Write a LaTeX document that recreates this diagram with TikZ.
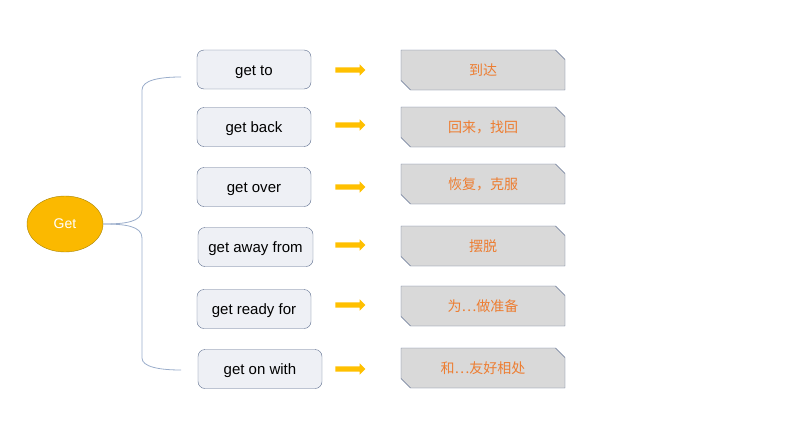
\documentclass[tikz,border=0pt]{standalone}
\usepackage{fontspec}
\setmainfont{Liberation Sans}
\newfontfamily\cjk{Noto Sans CJK SC}
\usetikzlibrary{shapes.geometric,shapes.misc,shapes.arrows}

\definecolor{getgold}{HTML}{FBB900}
\definecolor{goldline}{HTML}{A8850A}
\definecolor{phrasefill}{HTML}{EEF0F5}
\definecolor{boxline}{HTML}{5A6B8C}
\definecolor{meanfill}{HTML}{D9D9D9}
\definecolor{meantext}{HTML}{ED7D31}
\definecolor{bracecol}{HTML}{9AADCB}
\definecolor{arrowcol}{HTML}{FFC000}

\tikzset{
  phrase/.style={shape=rectangle,rounded corners=7pt,draw=boxline,fill=phrasefill,
    minimum width=114pt,minimum height=39pt,inner sep=0pt,
    text height=12pt,text depth=1pt,
    font=\fontsize{15}{17}\selectfont},
  meaning/.style={shape=chamfered rectangle,chamfered rectangle corners={north east,south west},
    chamfered rectangle xsep=6pt,draw=boxline,fill=meanfill,text=meantext,
    minimum width=164pt,minimum height=40pt,inner sep=0pt,
    font=\cjk\fontsize{14}{16}\selectfont},
  yarrow/.style={shape=single arrow,fill=arrowcol,inner sep=2.5pt,
    single arrow head extend=3pt,single arrow head indent=0pt,minimum height=30pt}
}

\begin{document}
\begin{tikzpicture}[x=1pt,y=-1pt]
\useasboundingbox (0,0) rectangle (794,447);
%[line width=0.8pt]
\path (65,224) node (get) [shape=ellipse,minimum width=76pt,minimum height=56pt,draw=goldline,fill=getgold,text=white,font=\fontsize{14}{16}\selectfont] {Get};

\path (254,69.5) node (getto) [phrase] {get to};
\path (254,127) node (getback) [phrase] {get back};
\path (254,187) node (getover) [phrase] {get over};
\path (255.5,247) node (getaway) [phrase,minimum width=115pt] {get away from};
\path (254,309) node (getready) [phrase] {get ready for};
\path (260,369) node (geton) [phrase,minimum width=124pt] {get on with};

\path (349,70) node (arrto) [yarrow] {};
\path (349,125) node (arrback) [yarrow] {};
\path (349,187) node (arrover) [yarrow] {};
\path (349,245) node (arraway) [yarrow] {};
\path (349,305) node (arrready) [yarrow] {};
\path (349,369) node (arron) [yarrow] {};

\path (483,70) node (mto) [meaning] {到达};
\path (483,127) node (mback) [meaning] {回来，找回};
\path (483,184) node (mover) [meaning] {恢复，克服};
\path (483,246) node (maway) [meaning] {摆脱};
\path (483,306) node (mready) [meaning] {为…做准备};
\path (483,368) node (mon) [meaning] {和…友好相处};

\coordinate (bracetop) at (181,77);
\coordinate (bracebot) at (181,370);
\draw [bracecol,line width=0.8pt] (get.east) .. controls (125,224) and (142,222) .. (142,210) -- (142,90) .. controls (142,80) and (160,77) .. (bracetop);
\draw [bracecol,line width=0.8pt] (get.east) .. controls (125,224) and (142,226) .. (142,238) -- (142,358) .. controls (142,367) and (160,370) .. (bracebot);
\end{tikzpicture}
\end{document}
